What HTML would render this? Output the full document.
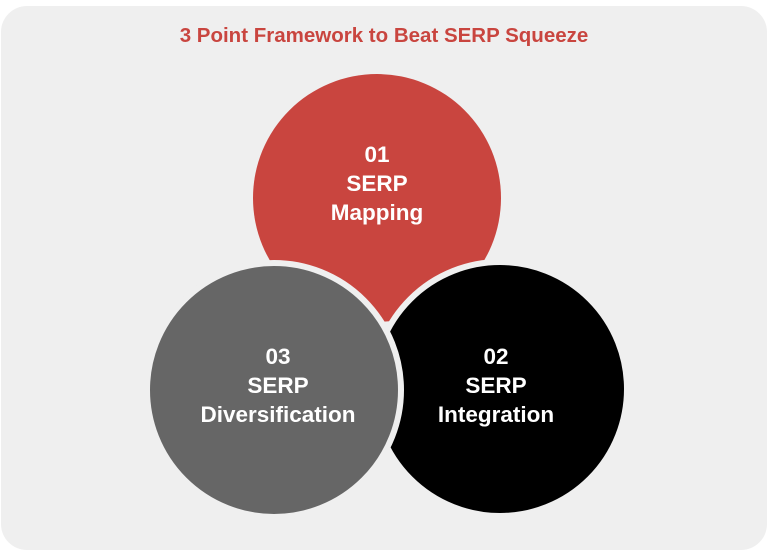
<!DOCTYPE html>
<html><head><style>
html,body{margin:0;padding:0;background:#fff;}
body{width:768px;height:552px;overflow:hidden;}
</style></head><body>
<svg width="768" height="552" xmlns="http://www.w3.org/2000/svg" style="display:block">
<rect x="1" y="6" width="766" height="544" rx="26" fill="#efefef"/>
<text x="384" y="42" text-anchor="middle" font-family="Liberation Sans, sans-serif" font-weight="bold" font-size="20.5" fill="#c9453f">3 Point Framework to Beat SERP Squeeze</text>
<circle cx="377" cy="198" r="124" fill="#c9453f"/>
<circle cx="500" cy="389" r="127" fill="#000" stroke="#efefef" stroke-width="6"/>
<circle cx="274" cy="390" r="127" fill="#666" stroke="#efefef" stroke-width="6"/>
<g font-family="Liberation Sans, sans-serif" font-weight="bold" font-size="22.5" fill="#fff" text-anchor="middle">
<text x="377" y="162">01</text><text x="377" y="191">SERP</text><text x="377" y="220">Mapping</text>
<text x="278" y="364">03</text><text x="278" y="393">SERP</text><text x="278" y="422">Diversification</text>
<text x="496" y="364">02</text><text x="496" y="393">SERP</text><text x="496" y="422">Integration</text>
</g>
</svg>
</body></html>
